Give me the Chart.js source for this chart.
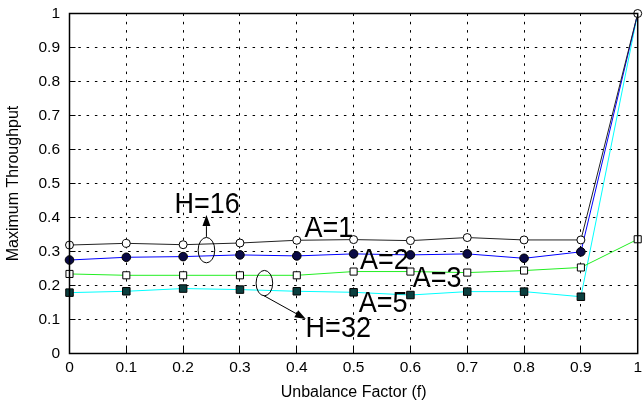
<!DOCTYPE html>
<html>
<head>
<meta charset="utf-8">
<script src="https://cdn.jsdelivr.net/npm/chart.js@4.4.1/dist/chart.umd.min.js"></script>
<style>
  html, body { margin: 0; padding: 0; background: #fff; }
  #wrap { width: 644px; height: 403px; position: relative; }
</style>
</head>
<body>
<div id="wrap"><canvas id="c" width="644" height="403"></canvas></div>
<script>
// ---- data ----
const factors = [0, 0.1, 0.2, 0.3, 0.4, 0.5, 0.6, 0.7, 0.8, 0.9, 1.0];
const seriesA1 = [0.319, 0.324, 0.320, 0.325, 0.333, 0.335, 0.332, 0.341, 0.334, 0.334, 1.0];
const seriesA2 = [0.275, 0.283, 0.285, 0.290, 0.287, 0.293, 0.290, 0.293, 0.280, 0.299, 1.0];
const seriesA3 = [0.234, 0.230, 0.230, 0.230, 0.230, 0.241, 0.241, 0.238, 0.244, 0.253, 0.336];
const seriesA5 = [0.179, 0.183, 0.191, 0.188, 0.183, 0.180, 0.172, 0.182, 0.182, 0.167, 1.0];
const yTicks = [0, 0.1, 0.2, 0.3, 0.4, 0.5, 0.6, 0.7, 0.8, 0.9, 1];
const xTicks = [0, 0.1, 0.2, 0.3, 0.4, 0.5, 0.6, 0.7, 0.8, 0.9, 1];
const labelTexts = ['H=16', 'A=1', 'A=2', 'A=3', 'A=5', 'H=32'];
const xTitle = 'Unbalance Factor (f)';
const yTitle = 'Maximum Throughput';

const pts = arr => arr.map((v, i) => ({ x: factors[i], y: v }));
const radii = (n, r, lastR) => factors.map((_, i) => i === n - 1 ? lastR : r);

const FONT = '"Liberation Sans", Arial, sans-serif';

const annotPlugin = {
  id: 'annot',
  afterDatasetsDraw(chart) {
    const { ctx, chartArea: a } = chart;
    const xs = chart.scales.x, ys = chart.scales.y;
    const px = v => xs.getPixelForValue(v);
    const py = v => ys.getPixelForValue(v);
    ctx.save();
    // frame
    ctx.strokeStyle = '#000';
    ctx.lineWidth = 1.5;
    ctx.strokeRect(a.left, a.top, a.right - a.left, a.bottom - a.top);

    // texts
    const pos = [
      [0.2423, 0.412], [0.4565, 0.342], [0.554, 0.250],
      [0.647, 0.196], [0.552, 0.123], [0.473, 0.050]
    ];
    ctx.fillStyle = '#000';
    ctx.font = '27px ' + FONT;
    ctx.textAlign = 'center';
    ctx.textBaseline = 'alphabetic';
    labelTexts.forEach((t, i) => {
      ctx.save();
      ctx.translate(px(pos[i][0]), py(pos[i][1]));
      ctx.scale(1, 1.08);
      ctx.fillText(t, 0, 0);
      ctx.restore();
    });

    // ellipses
    ctx.lineWidth = 1;
    ctx.strokeStyle = '#000';
    [[0.241, 0.304], [0.343, 0.207]].forEach(([fx, fy]) => {
      ctx.beginPath();
      ctx.ellipse(px(fx), py(fy), 8.3, 12.7, 0, 0, Math.PI * 2);
      ctx.stroke();
    });

    // arrows
    function arrow(x0, y0, x1, y1) {
      const X0 = px(x0), Y0 = py(y0), X1 = px(x1), Y1 = py(y1);
      const ang = Math.atan2(Y1 - Y0, X1 - X0);
      const hl = 11, hw = 4;
      const bx = X1 - hl * Math.cos(ang), by = Y1 - hl * Math.sin(ang);
      ctx.beginPath();
      ctx.moveTo(X0, Y0);
      ctx.lineTo(bx, by);
      ctx.stroke();
      ctx.beginPath();
      ctx.moveTo(X1, Y1);
      ctx.lineTo(bx + hw * Math.sin(ang), by - hw * Math.cos(ang));
      ctx.lineTo(bx - hw * Math.sin(ang), by + hw * Math.cos(ang));
      ctx.closePath();
      ctx.fill();
    }
    arrow(0.241, 0.343, 0.241, 0.407);
    arrow(0.3415, 0.1706, 0.416, 0.1015);
    ctx.restore();
  }
};

const gridOpts = { color: '#000', lineWidth: 1, drawTicks: true, tickLength: -6,
                   tickColor: '#000', tickWidth: 1 };

new Chart(document.getElementById('c'), {
  type: 'line',
  data: {
    datasets: [
      { label: 'A=1', data: pts(seriesA1), borderColor: '#222', borderWidth: 1,
        pointStyle: 'circle', pointRadius: 4, pointBackgroundColor: '#fff',
        pointBorderColor: '#000', pointBorderWidth: 1, clip: false },
      { label: 'A=2', data: pts(seriesA2), borderColor: '#0000ff', borderWidth: 1,
        pointStyle: 'circle', pointRadius: radii(11, 4.3, 0), pointBackgroundColor: '#0a0a45',
        pointBorderColor: '#000', pointBorderWidth: 1, clip: false },
      { label: 'A=3', data: pts(seriesA3), borderColor: '#22ee22', borderWidth: 1,
        pointStyle: 'rect', pointRadius: 5, pointBackgroundColor: '#fff',
        pointBorderColor: '#000', pointBorderWidth: 1, clip: false },
      { label: 'A=5', data: pts(seriesA5), borderColor: '#00ffff', borderWidth: 1,
        pointStyle: 'rect', pointRadius: radii(11, 5.3, 0), pointBackgroundColor: '#0b3f3f',
        pointBorderColor: '#000', pointBorderWidth: 1, clip: false }
    ]
  },
  options: {
    responsive: false,
    animation: false,
    events: [],
    layout: { padding: { left: 0, right: 5, top: 13.5, bottom: 0 } },
    plugins: { legend: { display: false }, tooltip: { enabled: false } },
    elements: { line: { tension: 0 } },
    scales: {
      x: {
        type: 'linear', min: 0, max: 1,
        afterBuildTicks: s => { s.ticks = xTicks.map(v => ({ value: v })); },
        afterFit: s => { s.height = 49.5; s.paddingLeft = 0; s.paddingRight = 0; },
        grid: { ...gridOpts },
        border: { display: false, dash: [2.5, 5.8] },
        ticks: { color: '#000', font: { family: FONT, size: 15.5 }, padding: 11,
                 maxRotation: 0, autoSkip: false,
                 callback: v => String(+v.toFixed(1)) },
        title: { display: true, text: xTitle, color: '#000',
                 font: { family: FONT, size: 16 }, padding: { top: 0, bottom: 1 } }
      },
      y: {
        type: 'linear', min: 0, max: 1,
        afterBuildTicks: s => { s.ticks = yTicks.map(v => ({ value: v })); },
        afterFit: s => { s.width = 69.5; s.paddingTop = 0; s.paddingBottom = 0; },
        grid: { ...gridOpts },
        border: { display: false, dash: [2.5, 5.8] },
        ticks: { color: '#000', font: { family: FONT, size: 15.5 }, padding: 15.5,
                 autoSkip: false,
                 callback: v => String(+v.toFixed(1)) },
        title: { display: true, text: yTitle, color: '#000',
                 font: { family: FONT, size: 16 }, padding: { top: 4, bottom: 0 } }
      }
    }
  },
  plugins: [annotPlugin]
});
</script>
</body>
</html>
